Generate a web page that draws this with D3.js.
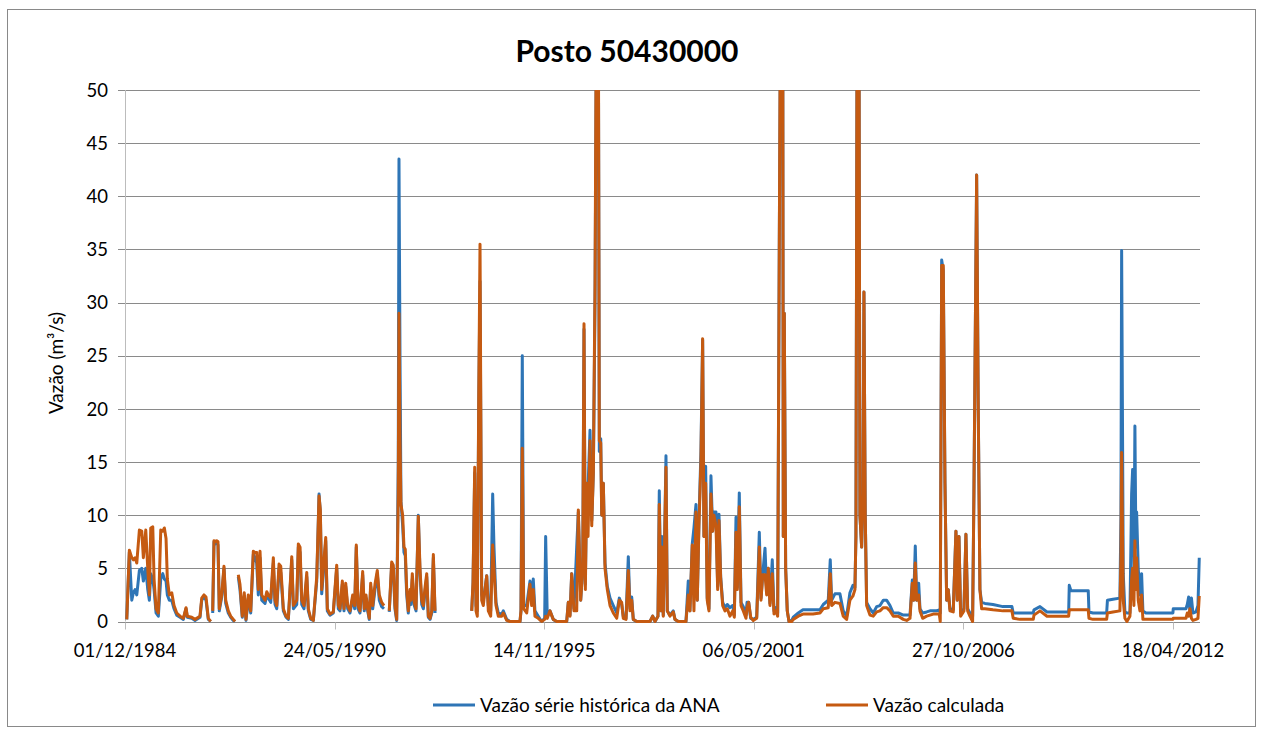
<!DOCTYPE html>
<html>
<head>
<meta charset="utf-8">
<script src="https://cdn.jsdelivr.net/npm/d3@7"></script>
<style>
    body { margin: 0; background: #fff; }
    text { font-family: Lato, 'Open Sans', sans-serif; fill: #000; }
</style>
</head>
<body>
<div id="chart"></div>
<script>
// Posto 50430000 - vazões diárias (anos decimais)
const years = [
    1984.961, 1985.029, 1985.092, 1985.134, 1985.178, 1985.223, 1985.291, 1985.353, 1985.395, 1985.458,
    1985.510, 1985.552, 1985.588, 1985.641, 1985.675, 1985.727, 1985.787, 1985.850, 1985.902, 1985.944,
    1985.988, 1986.022, 1986.074, 1986.137, 1986.197, 1986.268, 1986.354, 1986.440, 1986.511, 1986.544,
    1986.659, 1986.746, 1986.876, 1986.921, 1986.981, 1987.033, 1987.093, 1987.156, 1987.177, 1987.208,
    1987.242, 1987.276, 1987.312, 1987.346, 1987.380, 1987.443, 1987.503, 1987.548, 1987.616, 1987.678,
    1987.746, 1987.791, 1987.830, 1987.877, 1987.921, 1987.981, 1988.033, 1988.078, 1988.138, 1988.201,
    1988.269, 1988.313, 1988.357, 1988.399, 1988.444, 1988.488, 1988.574, 1988.619, 1988.660, 1988.723,
    1988.791, 1988.835, 1988.880, 1988.940, 1988.984, 1989.052, 1989.123, 1989.183, 1989.272, 1989.314,
    1989.402, 1989.444, 1989.489, 1989.533, 1989.593, 1989.664, 1989.705, 1989.768, 1989.836, 1989.925,
    1989.985, 1990.019, 1990.055, 1990.097, 1990.160, 1990.202, 1990.272, 1990.358, 1990.447, 1990.489,
    1990.533, 1990.594, 1990.638, 1990.682, 1990.735, 1990.795, 1990.865, 1990.917, 1990.959, 1991.004,
    1991.056, 1991.126, 1991.168, 1991.213, 1991.257, 1991.299, 1991.335, 1991.388, 1991.448, 1991.508,
    1991.560, 1991.623, 1991.683, 1991.735, 1991.821, 1991.884, 1991.926, 1991.970, 1992.015, 1992.056,
    1992.075, 1992.101, 1992.127, 1992.171, 1992.205, 1992.239, 1992.276, 1992.318, 1992.362, 1992.388,
    1992.422, 1992.474, 1992.519, 1992.579, 1992.623, 1992.668, 1992.710, 1992.754, 1992.798, 1992.840,
    1992.885, 1992.929, 1992.971, 1993.015, 1993.407, 1993.974, 1994.008, 1994.052, 1994.086, 1994.120,
    1994.157, 1994.191, 1994.235, 1994.277, 1994.321, 1994.366, 1994.408, 1994.470, 1994.522, 1994.556,
    1994.609, 1994.669, 1994.758, 1994.799, 1994.888, 1994.974, 1995.236, 1995.262, 1995.296, 1995.332,
    1995.411, 1995.497, 1995.541, 1995.583, 1995.627, 1995.714, 1995.802, 1995.881, 1995.907, 1995.949,
    1996.019, 1996.105, 1996.194, 1996.456, 1996.497, 1996.542, 1996.586, 1996.646, 1996.717, 1996.759,
    1996.821, 1996.874, 1996.907, 1996.942, 1996.978, 1997.012, 1997.064, 1997.109, 1997.151, 1997.195,
    1997.239, 1997.281, 1997.307, 1997.344, 1997.370, 1997.412, 1997.456, 1997.516, 1997.587, 1997.673,
    1997.762, 1997.830, 1997.892, 1997.934, 1998.005, 1998.065, 1998.109, 1998.154, 1998.195, 1998.284,
    1998.632, 1998.702, 1998.762, 1998.841, 1998.875, 1998.919, 1998.945, 1998.979, 1999.050, 1999.084,
    1999.154, 1999.240, 1999.285, 1999.371, 1999.572, 1999.632, 1999.676, 1999.737, 1999.781, 1999.834,
    1999.868, 1999.912, 1999.964, 2000.008, 2000.042, 2000.087, 2000.128, 2000.173, 2000.225, 2000.269,
    2000.303, 2000.356, 2000.400, 2000.434, 2000.479, 2000.531, 2000.591, 2000.651, 2000.721, 2000.792,
    2000.834, 2000.878, 2000.912, 2000.964, 2001.009, 2001.069, 2001.139, 2001.166, 2001.210, 2001.262,
    2001.330, 2001.419, 2001.487, 2001.531, 2001.576, 2001.636, 2001.680, 2001.722, 2001.766, 2001.826,
    2001.871, 2001.923, 2001.967, 2002.009, 2002.054, 2002.098, 2002.114, 2002.140, 2002.176, 2002.218,
    2002.263, 2002.333, 2002.375, 2002.506, 2002.628, 2002.733, 2002.890, 2003.072, 2003.159, 2003.289,
    2003.342, 2003.378, 2003.464, 2003.595, 2003.681, 2003.770, 2003.856, 2003.935, 2003.987, 2004.013,
    2004.047, 2004.091, 2004.117, 2004.162, 2004.196, 2004.222, 2004.256, 2004.292, 2004.379, 2004.465,
    2004.553, 2004.640, 2004.726, 2004.815, 2004.901, 2004.987, 2005.118, 2005.249, 2005.337, 2005.424,
    2005.484, 2005.520, 2005.562, 2005.598, 2005.651, 2005.685, 2005.755, 2005.860, 2005.946, 2006.032,
    2006.121, 2006.189, 2006.215, 2006.252, 2006.294, 2006.338, 2006.382, 2006.424, 2006.468, 2006.555,
    2006.625, 2006.659, 2006.704, 2006.748, 2006.834, 2006.886, 2006.931, 2006.991, 2007.061, 2007.095,
    2007.166, 2007.208, 2007.252, 2007.297, 2007.383, 2007.592, 2007.853, 2008.088, 2008.122, 2008.297,
    2008.645, 2008.663, 2008.820, 2009.002, 2009.569, 2009.585, 2009.629, 2010.081, 2010.100, 2010.204,
    2010.562, 2010.583, 2010.727, 2010.909, 2010.936, 2010.954, 2010.996, 2011.040, 2011.092, 2011.171,
    2011.215, 2011.241, 2011.275, 2011.301, 2011.327, 2011.346, 2011.388, 2011.432, 2011.476, 2011.510,
    2011.589, 2012.294, 2012.302, 2012.634, 2012.668, 2012.704, 2012.738, 2012.777, 2012.816, 2012.895,
    2012.947, 2012.981
];

// Vazão série histórica da ANA (m³/s), null = falha
const vazaoAna = [
    0.2, 6.5, 2.0, 2.7, 3.0, 2.5, 4.8, 5.0, 3.8, 5.0,
    3.0, 2.0, 4.5, 4.0, 3.0, 0.8, 0.5, 4.0, 4.5, 4.0,
    3.8, 2.5, 2.0, 2.0, 1.2, 0.6, 0.4, 0.2, 1.2, 0.4,
    0.3, 0.1, 0.4, 2.0, 2.3, 2.0, 0.2, 0, null, 0.8,
    7.5, 7.3, 7.4, 7.2, 1.0, 2.3, 5.0, 1.7, 0.8, 0.4,
    0.1, 0, null, 4.2, 3.0, 0.4, 2.4, 0.1, 2.2, 0.8,
    6.3, 6.0, 5.5, 2.5, 6.0, 2.0, 1.7, 2.4, 2.2, 1.8,
    5.5, 1.6, 1.2, 5.0, 4.6, 1.0, 0.4, 0.2, 5.8, 1.2,
    1.6, 7.0, 6.5, 1.6, 1.2, 4.2, 1.0, 0.2, 0.1, 3.8,
    12.0, 10.3, 2.6, 4.5, 7.6, 1.0, 0.6, 0.8, 5.0, 1.2,
    1.0, 3.5, 1.0, 3.3, 1.2, 0.8, 2.2, 1.2, 7.0, 1.2,
    0.8, 4.4, 1.0, 2.2, 1.0, 0.2, 3.3, 1.2, 3.0, 4.5,
    2.0, 1.4, 1.2, null, 0.9, 5.3, 5.0, 1.2, 0.1, 15.0,
    43.5, 25.0, 11.3, 9.0, 6.5, 6.2, 2.5, 0.8, 2.6, 1.6,
    4.0, 1.5, 1.0, 10.0, 4.5, 1.6, 1.2, 2.8, 4.2, 0.4,
    0.2, 0.8, 6.0, 0.8, null, 1.0, 3.5, 14.0, 1.5, 1.0,
    20.0, 32.0, 2.5, 2.0, 3.0, 4.3, 1.5, 1.0, 12.0, 7.0,
    1.8, 0.8, 0.7, 1.0, 0.2, 0, 0, 1.0, 25.0, 1.5,
    1.5, 3.8, 2.0, 4.0, 1.0, 0.5, 0, 0.3, 8.0, 0.5,
    1.0, 0.2, 0, 0, 1.8, 0.6, 4.5, 1.2, 7.0, 10.3,
    2.0, 5.0, 27.5, 3.5, 12.8, 12.5, 18.0, 9.5, 14.0, 30.0,
    62.0, 58.0, 16.0, 17.2, 10.0, 13.0, 5.5, 3.3, 2.2, 1.5,
    0.8, 2.2, 1.6, 0.5, 0.3, 6.1, 1.2, 2.3, 0.2, 0,
    0, 0.5, 0, 0.5, 12.3, 1.0, 8.0, 0.6, 15.6, 1.0,
    0.6, 1.0, 0.2, 0, 0, 3.8, 1.0, 7.3, 8.8, 11.0,
    2.0, 9.5, 16.0, 26.5, 8.0, 14.6, 2.2, 1.2, 13.7, 8.5,
    10.3, 10.3, 3.3, 10.1, 4.2, 1.8, 1.3, 1.6, 1.3, 1.5,
    0.6, 9.8, 3.2, 12.1, 1.8, 1.4, 0.6, 1.8, 1.8, 0.3,
    0.2, 0.4, 8.4, 2.2, 4.4, 6.9, 2.8, 5.0, 1.7, 5.8,
    1.0, 1.3, 0.8, 35.0, 65.0, 62.0, 8.0, 29.0, 5.0, 1.0,
    0, 0.1, 0.4, 0.8, 1.1, 1.1, 1.1, 1.1, 1.6, 2.0,
    5.8, 2.0, 2.6, 2.6, 1.0, 0.5, 2.7, 3.4, 3.2, 8.0,
    62.0, 60.0, 10.0, 7.0, 12.0, 31.0, 10.0, 1.8, 1.2, 0.8,
    1.4, 1.5, 2.0, 2.0, 1.5, 0.8, 0.8, 0.6, 0.6, 0.6,
    3.9, 2.0, 7.1, 2.0, 3.6, 1.2, 0.8, 0.9, 1.0, 1.0,
    1.0, 1.1, 0.8, 34.0, 33.0, 13.0, 2.0, 3.0, 1.2, 1.1,
    8.5, 2.0, 8.0, 0.8, 1.2, 8.2, 1.2, 0.8, 0.5, 12.0,
    42.0, 20.0, 3.0, 1.8, 1.7, 1.6, 1.4, 1.4, 0.8, 0.8,
    0.8, 1.1, 1.4, 0.9, 0.9, 3.4, 2.9, 2.9, 0.9, 0.8,
    0.8, 2.0, 2.1, 2.2, 10.0, 34.9, 4.5, 0.9, 0.8, 0.8,
    12.0, 14.3, 5.0, 18.4, 7.0, 10.3, 5.0, 2.5, 4.5, 1.0,
    0.8, 0.8, 1.2, 1.2, 1.6, 2.3, 1.0, 2.2, 0.8, 0.9,
    1.5, 6.0
];

// Vazão calculada (m³/s)
const vazaoCalc = [
    0.2, 6.7, 6.0, 5.8, 6.0, 5.5, 8.6, 8.5, 6.0, 8.6,
    5.0, 2.5, 8.8, 8.9, 4.0, 1.2, 0.8, 8.6, 8.5, 8.8,
    7.8, 4.0, 2.5, 2.7, 1.5, 0.8, 0.5, 0.3, 1.3, 0.5,
    0.4, 0.2, 0.5, 2.2, 2.5, 2.3, 0.3, 0, null, 1.0,
    7.6, 7.5, 7.6, 7.5, 1.2, 2.5, 5.2, 2.0, 1.0, 0.5,
    0.2, 0, null, 4.4, 3.5, 0.5, 2.7, 0.2, 2.5, 1.0,
    6.6, 6.5, 6.5, 3.0, 6.6, 2.5, 2.0, 2.8, 2.5, 2.2,
    6.0, 2.0, 1.5, 5.4, 5.2, 1.2, 0.5, 0.3, 6.1, 1.5,
    2.0, 7.3, 7.0, 2.0, 1.5, 4.6, 1.2, 0.3, 0.1, 4.2,
    11.8, 10.5, 3.0, 5.0, 7.9, 1.2, 0.7, 0.9, 5.3, 1.5,
    1.2, 3.8, 1.2, 3.6, 1.5, 1.0, 2.5, 1.5, 7.2, 1.5,
    1.0, 4.7, 1.2, 2.5, 1.2, 0.3, 3.6, 1.5, 3.5, 4.8,
    2.5, 1.8, 1.5, null, 1.0, 5.6, 5.3, 1.5, 0.2, 12.0,
    29.0, 17.0, 11.0, 10.0, 7.0, 6.8, 3.0, 1.0, 3.0, 2.0,
    4.5, 1.8, 1.2, 9.9, 5.0, 2.0, 1.5, 3.2, 4.5, 0.5,
    0.3, 1.0, 6.3, 1.0, null, 1.0, 3.7, 14.5, 1.0, 0.5,
    21.0, 35.5, 2.0, 1.5, 3.0, 4.3, 1.0, 0.5, 7.2, 5.0,
    1.5, 0.5, 0.5, 0.8, 0.1, 0, 0, 1.0, 16.3, 1.2,
    0.8, 3.5, 1.5, 3.0, 0.5, 0.3, 0, 0.2, 0.5, 0.3,
    1.0, 0.2, 0, 0, 1.8, 0.5, 4.5, 1.0, 1.0, 10.5,
    2.0, 5.0, 28.0, 3.0, 13.0, 8.0, 17.0, 9.0, 14.0, 31.8,
    65.0, 60.0, 17.0, 16.8, 10.0, 13.0, 5.0, 3.0, 1.5, 0.8,
    0.3, 2.0, 1.8, 0.3, 0.2, 4.8, 1.0, 2.0, 0.2, 0,
    0, 0.5, 0, 0.5, 11.0, 1.0, 7.0, 0.5, 14.5, 1.0,
    0.5, 0.9, 0.2, 0, 0, 2.5, 1.0, 7.2, 1.0, 10.3,
    2.0, 9.0, 15.0, 26.6, 8.0, 13.0, 2.0, 1.0, 12.0, 8.5,
    10.0, 9.0, 3.0, 9.5, 4.0, 1.5, 1.0, 1.2, 0.5, 1.0,
    0.4, 8.4, 3.0, 10.8, 1.5, 1.0, 0.3, 1.3, 1.8, 0.4,
    0.1, 0.3, 7.0, 2.0, 4.4, 4.4, 2.5, 5.0, 1.5, 4.5,
    0.7, 1.0, 0.5, 35.0, 70.0, 66.0, 8.0, 29.0, 5.0, 1.0,
    0, 0, 0.2, 0.5, 0.7, 0.7, 0.7, 0.8, 1.2, 1.3,
    4.5, 1.5, 1.8, 1.7, 0.5, 0.2, 2.0, 2.4, 3.0, 8.0,
    64.0, 62.0, 10.0, 7.0, 12.0, 31.0, 10.0, 1.5, 0.6, 0.5,
    0.9, 1.0, 1.3, 1.3, 1.0, 0.5, 0.5, 0.2, 0.1, 0.3,
    3.6, 2.0, 5.5, 2.0, 2.5, 1.0, 0.3, 0.5, 0.6, 0.7,
    0.7, 0.7, 0, 33.5, 33.5, 13.0, 2.0, 3.0, 1.0, 0.9,
    8.5, 2.0, 8.0, 0.5, 1.0, 8.2, 1.0, 0.5, 0, 12.0,
    42.0, 20.0, 3.0, 1.2, 1.2, 1.1, 1.0, 1.0, 0.3, 0.2,
    0.2, 0.6, 1.0, 0.5, 0.5, 1.1, 1.1, 1.1, 0.3, 0.2,
    0.2, 0.8, 0.9, 1.0, 6.0, 15.9, 2.0, 0.3, 0, 0.5,
    4.0, 5.0, 1.5, 7.6, 3.0, 6.0, 2.0, 1.0, 2.5, 0.2,
    0.2, 0.2, 0.3, 0.3, 0.8, 0.5, 1.2, 0.3, 0.1, 0.2,
    0.3, 2.4
];

// Eixos
const dateTicks = ['01/12/1984', '24/05/1990', '14/11/1995', '06/05/2001', '27/10/2006', '18/04/2012'];
const yTicks = [0, 5, 10, 15, 20, 25, 30, 35, 40, 45, 50];
const seriesNames = ['Vazão série histórica da ANA', 'Vazão calculada'];
const seriesColors = ['#2E75B6', '#C55A11'];

function createFlowChart(containerId) {
    const width = 1263;
    const height = 734;
    const plot = { left: 125, right: 1200, top: 90, bottom: 621.5 };

    const parseDate = d3.utcParse('%d/%m/%Y');

    // ano decimal -> data
    const yearToDate = y => {
        const yr = Math.floor(y);
        const start = Date.UTC(yr, 0, 1);
        const end = Date.UTC(yr + 1, 0, 1);
        return new Date(start + (y - yr) * (end - start));
    };

    const svg = d3.select('#' + containerId)
        .append('svg')
        .attr('width', width)
        .attr('height', height);

    // Chart border
    svg.append('rect')
        .attr('x', 7.5)
        .attr('y', 9.5)
        .attr('width', 1248)
        .attr('height', 717)
        .attr('fill', '#fff')
        .attr('stroke', '#898989')
        .attr('stroke-width', 1);

    const xScale = d3.scaleUtc()
        .domain([parseDate(dateTicks[0]), new Date(Date.UTC(2013, 0, 1))])
        .range([plot.left, plot.right]);

    const yScale = d3.scaleLinear()
        .domain([0, 50])
        .range([plot.bottom, plot.top]);

    // Grid lines (with the small tick on the left)
    svg.append('g')
        .selectAll('line')
        .data(yTicks.slice(1))
        .enter().append('line')
        .attr('x1', plot.left - 7)
        .attr('x2', plot.right)
        .attr('y1', d => Math.round(yScale(d)) + 0.5)
        .attr('y2', d => Math.round(yScale(d)) + 0.5)
        .attr('stroke', '#8a8a8a')
        .attr('stroke-width', 1);

    // Y axis line
    svg.append('line')
        .attr('x1', plot.left + 0.5)
        .attr('x2', plot.left + 0.5)
        .attr('y1', plot.top)
        .attr('y2', plot.bottom)
        .attr('stroke', '#bcbcbc')
        .attr('stroke-width', 1);

    // X axis line + ticks
    const xAxisY = Math.round(yScale(0)) + 0.5;
    svg.append('line')
        .attr('x1', plot.left - 7)
        .attr('x2', plot.right)
        .attr('y1', xAxisY)
        .attr('y2', xAxisY)
        .attr('stroke', '#8a8a8a')
        .attr('stroke-width', 1);

    const xTickDates = dateTicks.map(parseDate);
    svg.append('g')
        .selectAll('line')
        .data(xTickDates)
        .enter().append('line')
        .attr('x1', d => Math.round(xScale(d)) + 0.5)
        .attr('x2', d => Math.round(xScale(d)) + 0.5)
        .attr('y1', xAxisY)
        .attr('y2', xAxisY + 7)
        .attr('stroke', '#bcbcbc');

    // Y tick labels
    svg.append('g')
        .selectAll('text')
        .data(yTicks)
        .enter().append('text')
        .attr('x', 108)
        .attr('y', d => yScale(d))
        .attr('dy', '0.36em')
        .attr('text-anchor', 'end')
        .attr('font-size', '18.5px')
        .text(d => d);

    // X tick labels
    svg.append('g')
        .selectAll('text')
        .data(xTickDates)
        .enter().append('text')
        .attr('x', d => xScale(d))
        .attr('y', 657)
        .attr('text-anchor', 'middle')
        .attr('font-size', '18.5px')
        .text((d, i) => dateTicks[i]);

    // Clip lines at the top of the plot (values above 50)
    svg.append('defs')
        .append('clipPath')
        .attr('id', 'plot-clip')
        .append('rect')
        .attr('x', plot.left)
        .attr('y', plot.top)
        .attr('width', plot.right - plot.left + 2)
        .attr('height', plot.bottom - plot.top + 3);

    const line = d3.line()
        .defined(d => d.value !== null)
        .x(d => xScale(d.date))
        .y(d => yScale(d.value));

    const series = [vazaoAna, vazaoCalc].map(values =>
        years.map((y, i) => ({ date: yearToDate(y), value: values[i] }))
    );

    const lines = svg.append('g').attr('clip-path', 'url(#plot-clip)');
    series.forEach((data, i) => {
        lines.append('path')
            .datum(data)
            .attr('fill', 'none')
            .attr('stroke', seriesColors[i])
            .attr('stroke-width', 3)
            .attr('stroke-linejoin', 'round')
            .attr('d', line);
    });

    // Title
    svg.append('text')
        .attr('x', 627)
        .attr('y', 62)
        .attr('text-anchor', 'middle')
        .attr('font-size', '30px')
        .attr('font-weight', 'bold')
        .text('Posto 50430000');

    // Y axis title
    svg.append('text')
        .attr('transform', 'translate(63,363) rotate(-90)')
        .attr('text-anchor', 'middle')
        .attr('font-size', '19px')
        .text('Vazão (m³/s)');

    // Legend
    const legendX = [433, 826];
    const legend = svg.append('g');
    seriesNames.forEach((name, i) => {
        legend.append('line')
            .attr('x1', legendX[i])
            .attr('x2', legendX[i] + 42)
            .attr('y1', 705)
            .attr('y2', 705)
            .attr('stroke', seriesColors[i])
            .attr('stroke-width', 3);
        legend.append('text')
            .attr('x', legendX[i] + 47)
            .attr('y', 705)
            .attr('dy', '0.35em')
            .attr('font-size', '19px')
            .text(name);
    });
}

createFlowChart('chart');
</script>
</body>
</html>
